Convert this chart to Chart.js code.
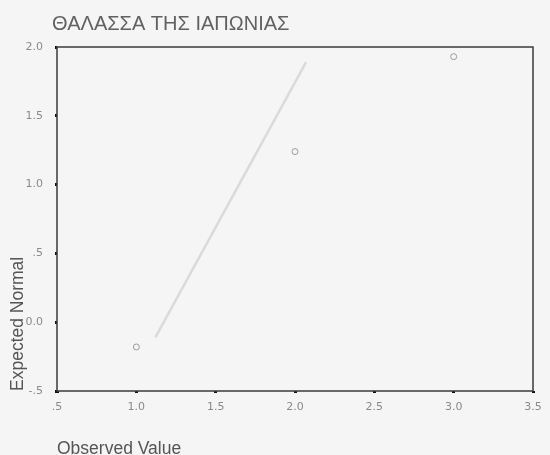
<!DOCTYPE html>
<html>
<head>
<meta charset="utf-8">
<script src="https://cdn.jsdelivr.net/npm/chart.js@4/dist/chart.umd.min.js"></script>
<style>
  html, body { margin: 0; padding: 0; background: #f5f5f5; }
  #wrap { width: 550px; height: 455px; }
</style>
</head>
<body>
<div id="wrap"><canvas id="c" width="550" height="455"></canvas></div>
<script>
// ---- data ----
const chartTitle = 'ΘΑΛΑΣΣΑ ΤΗΣ ΙΑΠΩΝΙΑΣ';
const xTitle = 'Observed Value';
const yTitle = 'Expected Normal';
const observed = [1.0, 2.0, 3.0];
const expected = [-0.18, 1.24, 1.93];
const refLineX = [1.12, 2.07];
const refLineY = [-0.11, 1.89];
const xRange = [0.5, 3.5];
const yRange = [-0.5, 2.0];
const tickStep = 0.5;

function spssFmt(v) {
  if (Math.abs(v) < 1e-9) return '0.0';
  let s = v.toFixed(1);
  s = s.replace(/^0\./, '.').replace(/^-0\./, '-.');
  return s;
}

const pointData = observed.map((x, i) => ({ x: x, y: expected[i] }));
const lineData = refLineX.map((x, i) => ({ x: x, y: refLineY[i] }));

const frame = {
  id: 'frame',
  afterLayout(chart) {
    if (chart.titleBlock) {
      chart.titleBlock.left = 52;
    }
  },
  afterDatasetsDraw(chart) {
    const a = chart.chartArea;
    const ctx = chart.ctx;
    ctx.save();
    ctx.strokeStyle = '#3a3a3a';
    ctx.lineWidth = 1.5;
    ctx.strokeRect(a.left, a.top, a.right - a.left, a.bottom - a.top);
    ctx.restore();
  }
};

new Chart(document.getElementById('c'), {
  type: 'scatter',
  data: {
    datasets: [
      {
        type: 'line',
        data: lineData,
        borderColor: '#dadada',
        borderWidth: 2.5,
        pointRadius: 0,
        fill: false,
        order: 2
      },
      {
        type: 'scatter',
        data: pointData,
        pointStyle: 'circle',
        pointRadius: 3,
        borderColor: '#9a9a9a',
        backgroundColor: 'rgba(0,0,0,0)',
        borderWidth: 1,
        order: 1
      }
    ]
  },
  options: {
    responsive: false,
    animation: false,
    layout: { padding: { top: 0, left: 0, right: 17, bottom: 0 } },
    plugins: {
      legend: { display: false },
      tooltip: { enabled: false },
      title: {
        display: true,
        text: chartTitle,
        align: 'start',
        color: '#616161',
        font: { family: "'Liberation Sans'", size: 20, weight: 'normal', lineHeight: 1.2 },
        padding: { top: 12, bottom: 11 }
      }
    },
    scales: {
      x: {
        type: 'linear',
        min: xRange[0],
        max: xRange[1],
        border: { display: false },
        grid: { drawOnChartArea: false, drawTicks: true, tickLength: 2, tickWidth: 3, tickColor: '#111' },
        ticks: {
          stepSize: tickStep,
          padding: 8,
          color: '#8a8a8a',
          font: { family: 'DejaVu Sans', size: 11 },
          maxRotation: 0,
          callback: (v) => spssFmt(v)
        },
        title: {
          display: true,
          text: xTitle,
          align: 'start',
          color: '#555555',
          font: { family: 'Liberation Sans', size: 17.5 },
          padding: { top: 0, bottom: -5 }
        },
        afterFit(scale) { scale.height = 64; }
      },
      y: {
        type: 'linear',
        min: yRange[0],
        max: yRange[1],
        border: { display: false },
        grid: { drawOnChartArea: false, drawTicks: true, tickLength: 2, tickWidth: 3, tickColor: '#111' },
        ticks: {
          stepSize: tickStep,
          padding: 12,
          color: '#8a8a8a',
          font: { family: 'DejaVu Sans', size: 11 },
          callback: (v) => spssFmt(v)
        },
        title: {
          display: true,
          text: yTitle,
          align: 'start',
          color: '#555555',
          font: { family: 'Liberation Sans', size: 17.5 },
          padding: { top: 8, bottom: 0 }
        },
        afterFit(scale) { scale.width = 57; }
      }
    }
  },
  plugins: [frame]
});
</script>
</body>
</html>
